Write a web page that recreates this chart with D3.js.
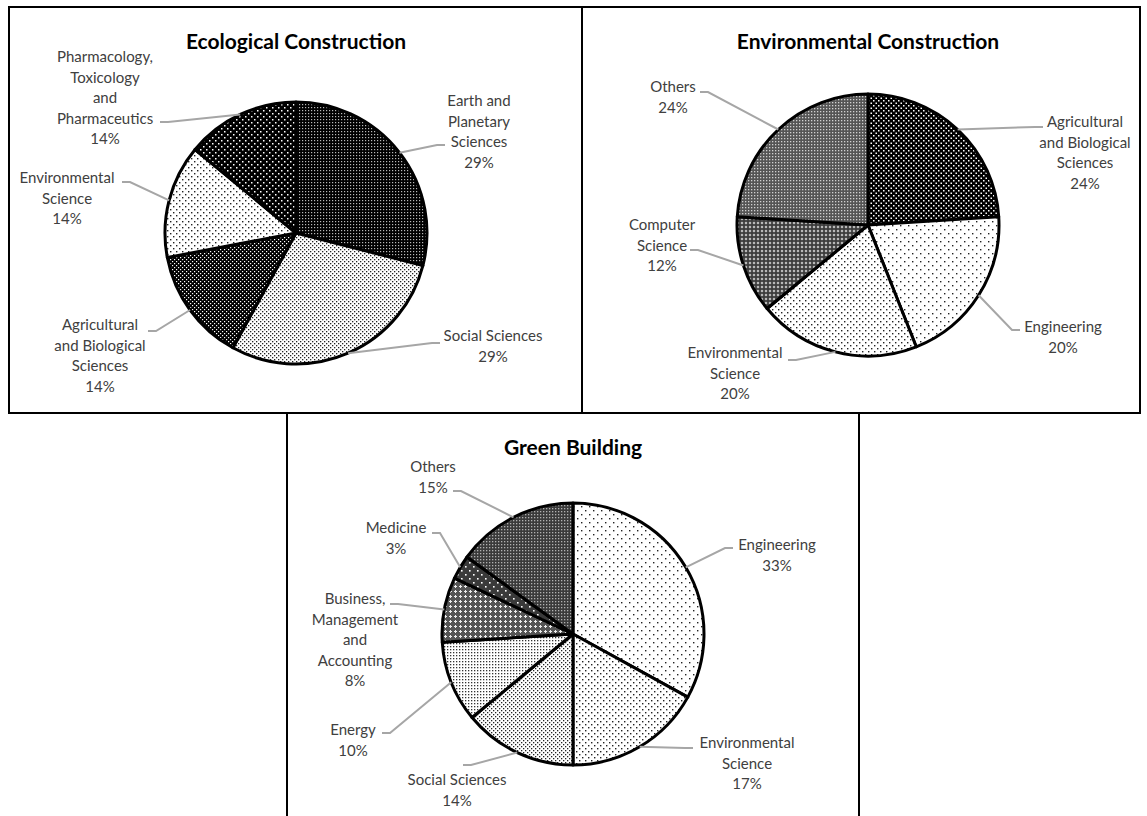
<!DOCTYPE html>
<html>
<head>
<meta charset="utf-8">
<script src="https://cdn.jsdelivr.net/npm/d3@7"></script>
<style>
  html, body { margin: 0; padding: 0; background: #fff; }
  svg { display: block; }
  .lbl { font-family: Lato, "Open Sans", sans-serif; font-size: 15px; fill: #404040; }
  .ttl { font-family: Lato, "Open Sans", sans-serif; font-size: 21px; font-weight: bold; fill: #000; }
</style>
</head>
<body>
<svg id="chart" width="1147" height="816"></svg>
<script>
// ---- data ----
const ecoCategories = ["Earth and Planetary Sciences", "Social Sciences", "Agricultural and Biological Sciences", "Environmental Science", "Pharmacology, Toxicology and Pharmaceutics"];
const ecoValues = [29, 29, 14, 14, 14];

const envCategories = ["Agricultural and Biological Sciences", "Engineering", "Environmental Science", "Computer Science", "Others"];
const envValues = [24, 20, 20, 12, 24];

const greenCategories = ["Engineering", "Environmental Science", "Social Sciences", "Energy", "Business, Management and Accounting", "Medicine", "Others"];
const greenValues = [33, 17, 14, 10, 8, 3, 15];

const chartTitles = ["Ecological Construction", "Environmental Construction", "Green Building"];

// label line breaks as they are set in each chart
const ecoLabelLines = [["Earth and", "Planetary", "Sciences"], ["Social Sciences"], ["Agricultural", "and Biological", "Sciences"], ["Environmental", "Science"], ["Pharmacology,", "Toxicology", "and", "Pharmaceutics"]];
const envLabelLines = [["Agricultural", "and Biological", "Sciences"], ["Engineering"], ["Environmental", "Science"], ["Computer", "Science"], ["Others"]];
const greenLabelLines = [["Engineering"], ["Environmental", "Science"], ["Social Sciences"], ["Energy"], ["Business,", "Management", "and", "Accounting"], ["Medicine"], ["Others"]];

// ---- fill patterns ----
const svg = d3.select("#chart");
const defs = svg.append("defs");

function dotPattern(id, bg, fg, pitch, size, stagger) {
  const p = defs.append("pattern").attr("id", id)
    .attr("patternUnits", "userSpaceOnUse").attr("width", pitch).attr("height", pitch);
  p.append("rect").attr("width", pitch).attr("height", pitch).attr("fill", bg);
  p.append("rect").attr("x", 0).attr("y", 0).attr("width", size).attr("height", size).attr("fill", fg);
  if (stagger) {
    p.append("rect").attr("x", pitch / 2).attr("y", pitch / 2).attr("width", size).attr("height", size).attr("fill", fg);
  }
}
function crossPattern(id, bg, fg, pitch, arm) {
  const p = defs.append("pattern").attr("id", id)
    .attr("patternUnits", "userSpaceOnUse").attr("width", pitch).attr("height", pitch);
  p.append("rect").attr("width", pitch).attr("height", pitch).attr("fill", bg);
  const c = pitch / 2;
  p.append("rect").attr("x", c - arm).attr("y", c - 0.5).attr("width", arm * 2).attr("height", 1).attr("fill", fg);
  p.append("rect").attr("x", c - 0.5).attr("y", c - arm).attr("width", 1).attr("height", arm * 2).attr("fill", fg);
}

dotPattern("darkGrid", "#000", "#b8b8b8", 3, 1.2, false);
dotPattern("midGrid", "#555", "#d0d0d0", 3, 1.3, false);
dotPattern("greyGrid", "#3a3a3a", "#b0b0b0", 3, 1.3, false);
dotPattern("dots20", "#fff", "#222", 4, 1.3, true);
dotPattern("dots10", "#fff", "#222", 6, 1.4, true);
dotPattern("dots5", "#fff", "#222", 8, 1.4, true);
dotPattern("dots35", "#fff", "#333", 3, 1.3, false);
dotPattern("inv80", "#000", "#fff", 4, 1.2, true);
dotPattern("inv85", "#000", "#fff", 5, 1.5, true);
dotPattern("inv90", "#000", "#fff", 6, 1.5, true);
dotPattern("invGrey", "#3a3a3a", "#fff", 8, 1.6, true);
crossPattern("crossDark", "#3c3c3c", "#e0e0e0", 4, 1.2);
crossPattern("crossMid", "#555", "#eee", 5, 1.5);

const ecoFills = ["darkGrid", "dots20", "inv80", "dots10", "inv90"];
const envFills = ["inv85", "dots5", "dots10", "crossDark", "midGrid"];
const greenFills = ["dots5", "dots10", "dots20", "dots35", "crossMid", "invGrey", "greyGrid"];

// ---- layout: panel frames, pie centres and label placement ----
const frame = svg.append("g").attr("fill", "none").attr("stroke", "#000").attr("stroke-width", 2);
frame.append("path").attr("d", "M9,7 H1140 V413 H9 Z M582,7 V413 M287,413 V816 M859,413 V816");

const radius = 131;

// per label: text centre of the first line and leader end point, relative to pie centre
const ecoLabelPos = [[183, -132, 149, -88], [197, 103, 144, 110], [-196, 92, -148, 98], [-229, -55, -174, -51], [-191, -176, -136, -111]];
const envLabelPos = [[217, -103, 175, -98], [195, 102, 152, 105], [-133, 128, -80, 135], [-206, 0, -178, 25], [-195, -138, -168, -133]];
const greenLabelPos = [[204, -89, 160, -86], [174, 109, 120, 114], [-116, 146, -110, 131], [-220, 96, -191, 99], [-218, -35, -183, -30], [-177, -106, -141, -101], [-140, -167, -120, -143]];

const charts = [
  { title: chartTitles[0], cats: ecoCategories, vals: ecoValues, lines: ecoLabelLines, fills: ecoFills, pos: ecoLabelPos, cx: 296, cy: 233, ty: 40 },
  { title: chartTitles[1], cats: envCategories, vals: envValues, lines: envLabelLines, fills: envFills, pos: envLabelPos, cx: 868, cy: 225, ty: 40 },
  { title: chartTitles[2], cats: greenCategories, vals: greenValues, lines: greenLabelLines, fills: greenFills, pos: greenLabelPos, cx: 573, cy: 634, ty: 446 }
];

const pct = d3.format(".0%");
const lineH = 20.5;

charts.forEach(ch => {
  const g = svg.append("g").attr("transform", `translate(${ch.cx},${ch.cy})`);
  svg.append("text").attr("class", "ttl")
    .attr("x", ch.cx).attr("y", ch.ty).attr("text-anchor", "middle").attr("dominant-baseline", "central")
    .text(ch.title);

  const total = d3.sum(ch.vals);
  const pie = d3.pie().sort(null).value(d => d)(ch.vals);
  const arc = d3.arc().innerRadius(0).outerRadius(radius);

  g.selectAll("path.slice").data(pie).join("path")
    .attr("class", "slice")
    .attr("d", arc)
    .attr("fill", (d, i) => `url(#${ch.fills[i]})`)
    .attr("stroke", "#000").attr("stroke-width", 3).attr("stroke-linejoin", "round");

  // leader lines from the slice mid-angle on the rim to the label
  pie.forEach((d, i) => {
    const a = (d.startAngle + d.endAngle) / 2;
    const ex = Math.sin(a) * radius, ey = -Math.cos(a) * radius;
    const [tx, ty, lx, ly] = ch.pos[i];
    const elbow = lx + (lx > 0 ? -8 : 8);
    g.append("path")
      .attr("d", d3.line()([[ex, ey], [elbow, ly], [lx, ly]]))
      .attr("fill", "none").attr("stroke", "#a6a6a6").attr("stroke-width", 2);

    const t = g.append("text").attr("class", "lbl").attr("text-anchor", "middle");
    const rows = ch.lines[i].concat([pct(d.data / total)]);
    rows.forEach((r, k) => {
      t.append("tspan").attr("x", tx).attr("y", ty + k * lineH).attr("dy", "0.35em").text(r);
    });
  });
});
</script>
</body>
</html>
